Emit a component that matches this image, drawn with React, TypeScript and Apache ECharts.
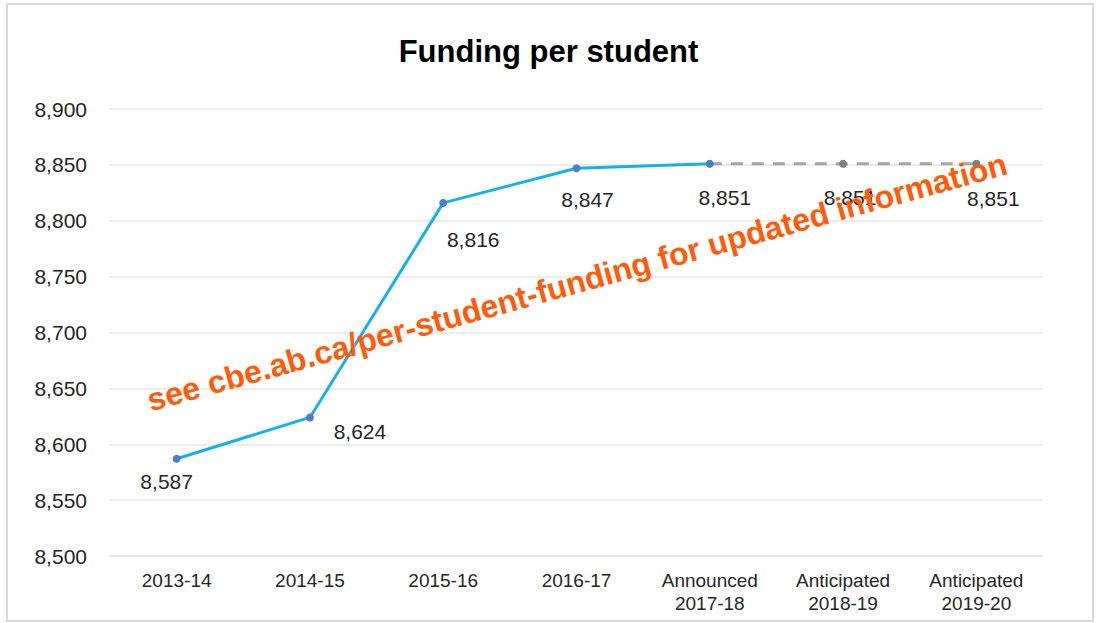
import React, { useEffect, useRef } from "react";
import * as echarts from "echarts";

const categories = [
  "2013-14",
  "2014-15",
  "2015-16",
  "2016-17",
  "Announced\n2017-18",
  "Anticipated\n2018-19",
  "Anticipated\n2019-20",
];
const actualValues: (number | null)[] = [8587, 8624, 8816, 8847, 8851, null, null];
const anticipatedValues: (number | null)[] = [null, null, null, null, 8851, 8851, 8851];
const labelOffsets: [number, number][] = [
  [-10, 23],
  [50, 14],
  [30, 37],
  [11, 31],
  [15, 34],
  [7, 34],
  [17, 35],
];
const yMin = 8500;
const yMax = 8900;
const yStep = 50;
const titleText = "Funding per student";
const noteText = "see cbe.ab.ca/per-student-funding for updated information";

const FONT = "'Liberation Sans', Arial, Helvetica, sans-serif";
const fmt = (v: number) => v.toLocaleString("en-US");

export default function App() {
  const ref = useRef<HTMLDivElement>(null);
  useEffect(() => {
    if (!ref.current) return;
    const chart = echarts.init(ref.current, undefined, { renderer: "svg" });
    const labelStyle = {
      show: true,
      position: "inside",
      color: "#262626",
      fontSize: 21,
      fontFamily: FONT,
      formatter: (p: any) => fmt(p.value),
    };
    const actualData = actualValues.map((v, i) =>
      v == null
        ? null
        : { value: v, label: { ...labelStyle, offset: labelOffsets[i] } }
    );
    const anticipatedData = anticipatedValues.map((v, i) => {
      if (v == null) return null;
      if (i === 4) return { value: v, symbol: "none", label: { show: false } };
      return { value: v, label: { ...labelStyle, offset: labelOffsets[i] } };
    });
    chart.setOption({
      animation: false,
      backgroundColor: "#ffffff",
      title: {
        text: titleText,
        left: "center",
        top: 31,
        textStyle: {
          fontFamily: FONT,
          fontWeight: "bold",
          fontSize: 31,
          color: "#000000",
        },
      },
      grid: { left: 110, right: 54, top: 109, bottom: 67, containLabel: false },
      xAxis: {
        type: "category",
        data: categories,
        boundaryGap: true,
        axisLine: { show: true, lineStyle: { color: "#e3e3e3", width: 1.5 } },
        axisTick: { show: false },
        axisLabel: {
          color: "#262626",
          fontSize: 19,
          fontFamily: FONT,
          margin: 13,
          lineHeight: 23,
          interval: 0,
        },
      },
      yAxis: {
        type: "value",
        min: yMin,
        max: yMax,
        interval: yStep,
        axisLine: { show: false },
        axisTick: { show: false },
        splitLine: { lineStyle: { color: "#e6e6e6", width: 1.5 } },
        axisLabel: {
          color: "#262626",
          fontSize: 21,
          fontFamily: FONT,
          margin: 23,
          formatter: (v: number) => fmt(v),
        },
      },
      series: [
        {
          type: "line",
          data: anticipatedData,
          connectNulls: false,
          symbol: "circle",
          symbolSize: 8,
          lineStyle: { color: "#a6a6a6", width: 3, type: [12, 9] },
          itemStyle: { color: "#7f7f7f" },
          z: 2,
        },
        {
          type: "line",
          data: actualData,
          connectNulls: false,
          symbol: "circle",
          symbolSize: 8,
          lineStyle: { color: "#19b0ea", width: 3 },
          itemStyle: { color: "#4f7fc6" },
          z: 3,
        },
      ],
      graphic: [
        {
          type: "rect",
          shape: { x: 7, y: 4, width: 1086, height: 617 },
          style: { fill: "none", stroke: "#d9d9d9", lineWidth: 2 },
          silent: true,
          z: 0,
        },
        {
          type: "text",
          x: 577,
          y: 282,
          rotation: (15.5 * Math.PI) / 180,
          style: {
            text: noteText,
            fill: "#ff5b0a",
            font: `bold 32px ${FONT}`,
            align: "center",
            verticalAlign: "middle",
          },
          z: 100,
        },
      ],
    });
    return () => chart.dispose();
  }, []);
  return (
    <div
      ref={ref}
      style={{ position: "absolute", left: 0, top: 0, width: 1097, height: 623 }}
    />
  );
}
